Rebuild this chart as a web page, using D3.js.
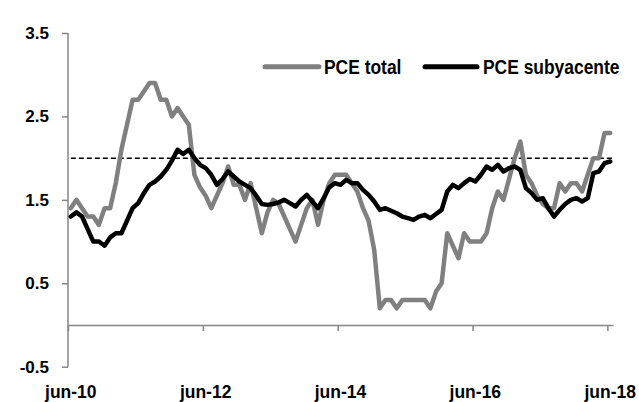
<!DOCTYPE html>
<html>
<head>
<meta charset="utf-8">
<script src="https://cdn.jsdelivr.net/npm/d3@7"></script>
<style>
  html, body { margin: 0; padding: 0; background: #fff; }
  svg text { font-family: "Liberation Sans", Arial, sans-serif; font-weight: bold; fill: #000; }
</style>
</head>
<body>
<div id="chart"></div>
<script>
// monthly y/y % change, jun-10 .. jun-18
const startMonth = new Date(2010, 5, 1);
const pceTotal = [
  1.4, 1.5, 1.4, 1.3, 1.3, 1.2, 1.4, 1.4, 1.7, 2.1,
  2.4, 2.7, 2.7, 2.8, 2.9, 2.9, 2.7, 2.7, 2.5, 2.6,
  2.5, 2.4, 1.8, 1.65, 1.55, 1.4, 1.55, 1.7, 1.9, 1.68,
  1.68, 1.5, 1.7, 1.4, 1.1, 1.35, 1.5, 1.45, 1.3, 1.15,
  1.0, 1.2, 1.4, 1.5, 1.2, 1.5, 1.7, 1.8, 1.8, 1.8,
  1.7, 1.6, 1.4, 1.25, 0.9, 0.2, 0.3, 0.3, 0.2, 0.3,
  0.3, 0.3, 0.3, 0.3, 0.2, 0.4, 0.5, 1.1, 0.95, 0.8,
  1.1, 1.0, 1.0, 1.0, 1.1, 1.4, 1.6, 1.5, 1.75, 2.0,
  2.2, 1.8, 1.7, 1.55, 1.45, 1.4, 1.4, 1.7, 1.6, 1.7,
  1.7, 1.6, 1.8, 2.0, 2.0, 2.3, 2.3
];
const pceCore = [
  1.3, 1.35, 1.3, 1.15, 1.0, 1.0, 0.95, 1.05, 1.1, 1.1,
  1.25, 1.4, 1.46, 1.58, 1.68, 1.72, 1.78, 1.86, 1.97, 2.1,
  2.05, 2.1, 2.0, 1.92, 1.88, 1.8, 1.68, 1.75, 1.84, 1.78,
  1.72, 1.68, 1.64, 1.55, 1.45, 1.44, 1.45, 1.47, 1.5, 1.46,
  1.42, 1.5, 1.56, 1.48, 1.4, 1.52, 1.65, 1.7, 1.68, 1.74,
  1.7, 1.7, 1.62, 1.56, 1.48, 1.38, 1.4, 1.37, 1.34, 1.3,
  1.28, 1.26, 1.3, 1.32, 1.28, 1.33, 1.38, 1.6, 1.68, 1.64,
  1.7, 1.75, 1.72, 1.8, 1.9, 1.86, 1.92, 1.84, 1.88, 1.9,
  1.86, 1.64, 1.58, 1.5, 1.52, 1.4, 1.3, 1.38, 1.45, 1.5,
  1.52, 1.48, 1.52, 1.82, 1.84, 1.94, 1.96
];
const target = 2.0;
const yTicks = [-0.5, 0.5, 1.5, 2.5, 3.5];
const xTickLabels = ["jun-10", "jun-12", "jun-14", "jun-16", "jun-18"];
const seriesNames = ["PCE total", "PCE subyacente"];

const months = pceTotal.map((d, i) => d3.timeMonth.offset(startMonth, i));

const width = 639, height = 402;
const axisColor = "#868686";

const svg = d3.select("#chart").append("svg")
  .attr("width", width)
  .attr("height", height);

const x = d3.scaleBand()
  .domain(d3.range(months.length))
  .range([68, 613])
  .padding(0);
const xc = i => x(i) + x.bandwidth() / 2;

const y = d3.scaleLinear()
  .domain([-0.5, 3.5])
  .range([366.7, 33]);

// y axis
const yAxis = svg.append("g")
  .attr("transform", "translate(68,0)")
  .call(d3.axisLeft(y)
    .tickValues(yTicks)
    .tickSize(6)
    .tickPadding(13)
    .tickFormat(d => d.toFixed(1)));
yAxis.selectAll("path, line").attr("stroke", axisColor).attr("stroke-width", 1.5);
yAxis.select(".domain").attr("d", "M0," + y(-0.5) + "V" + y(3.5));
yAxis.selectAll("text")
  .attr("font-size", 17)
  .attr("font-family", "Liberation Sans, Arial, sans-serif")
  .attr("font-weight", "bold")
  .attr("fill", "#000");

// x axis (line at zero, ticks at category edges every 24 months)
const xEdge = d3.scaleLinear().domain([0, months.length]).range(x.range());
const xAxis = svg.append("g")
  .attr("transform", "translate(0," + y(0) + ")")
  .call(d3.axisBottom(xEdge)
    .tickValues([0, 24, 48, 72, 96])
    .tickSize(6)
    .tickSizeOuter(0)
    .tickFormat(""));
xAxis.selectAll("path, line").attr("stroke", axisColor).attr("stroke-width", 1.5);

// x labels at the bottom, centred on their month
const labelIdx = months.map((m, i) => i).filter(i => (i % 24) === 0);
svg.append("g").selectAll("text")
  .data(labelIdx)
  .enter().append("text")
  .attr("x", d => xc(d))
  .attr("y", 397.5)
  .attr("text-anchor", "middle")
  .attr("font-size", 17.5)
  .text((d, k) => xTickLabels[k]);

// target line
svg.append("line")
  .attr("x1", xc(0))
  .attr("x2", x.range()[1])
  .attr("y1", y(target))
  .attr("y2", y(target))
  .attr("stroke", "#000")
  .attr("stroke-width", 1.5)
  .attr("stroke-dasharray", "5,3");

const line = d3.line()
  .x((d, i) => xc(i))
  .y(d => y(d));

svg.append("path")
  .datum(pceTotal)
  .attr("fill", "none")
  .attr("stroke", "#808080")
  .attr("stroke-width", 4.5)
  .attr("stroke-linejoin", "round")
  .attr("stroke-linecap", "round")
  .attr("d", line);

svg.append("path")
  .datum(pceCore)
  .attr("fill", "none")
  .attr("stroke", "#000")
  .attr("stroke-width", 4.5)
  .attr("stroke-linejoin", "round")
  .attr("stroke-linecap", "round")
  .attr("d", line);

// legend
const legend = [
  {name: seriesNames[0], color: "#808080", x1: 265, x2: 319, tx: 324},
  {name: seriesNames[1], color: "#000", x1: 425, x2: 477, tx: 483}
];
const lg = svg.append("g").selectAll("g")
  .data(legend)
  .enter().append("g");
lg.append("line")
  .attr("x1", d => d.x1)
  .attr("x2", d => d.x2)
  .attr("y1", 66.7)
  .attr("y2", 66.7)
  .attr("stroke", d => d.color)
  .attr("stroke-width", 5)
  .attr("stroke-linecap", "round");
lg.append("text")
  .attr("transform", d => "translate(" + d.tx + ",74) scale(0.85,1)")
  .attr("font-size", 20.5)
  .text(d => d.name);
</script>
</body>
</html>
